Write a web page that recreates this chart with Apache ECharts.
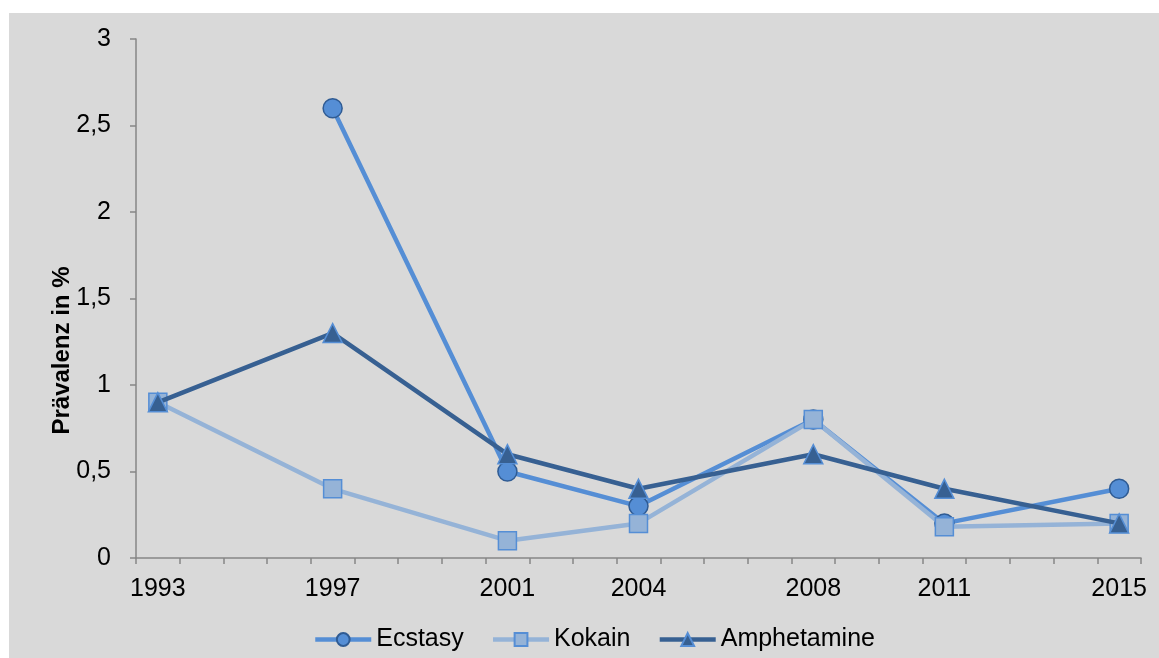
<!DOCTYPE html>
<html>
<head>
<meta charset="utf-8">
<script src="https://cdn.jsdelivr.net/npm/echarts@6/dist/echarts.min.js"></script>
<style>
  html, body { margin: 0; padding: 0; background: #ffffff; width: 1159px; height: 658px; overflow: hidden; }
  #chart { position: absolute; left: 9px; top: 13px; width: 1150px; height: 645px; }
</style>
</head>
<body>
<div id="chart"></div>
<script>
// Survey years and prevalence values (%)
const surveyYears = [1993, 1997, 2001, 2004, 2008, 2011, 2015];
const ecstasy     = [null, 2.6, 0.5, 0.3, 0.8, 0.2, 0.4];
const kokain      = [0.9, 0.4, 0.1, 0.2, 0.8, 0.18, 0.2];
const amphetamine = [0.9, 1.3, 0.6, 0.4, 0.6, 0.4, 0.2];
const yTicks      = ['0', '0,5', '1', '1,5', '2', '2,5', '3'];

// Yearly category axis covering the whole period
const allYears = [];
for (let y = surveyYears[0]; y <= surveyYears[surveyYears.length - 1]; y++) allYears.push(String(y));

function toSeriesData(values) {
  const data = allYears.map(() => null);
  surveyYears.forEach((yr, i) => { data[allYears.indexOf(String(yr))] = values[i]; });
  return data;
}

const FONT = '"Liberation Sans", Arial, sans-serif';

const chart = echarts.init(document.getElementById('chart'), null, { renderer: 'canvas' });
chart.setOption({
  backgroundColor: '#D9D9D9',
  animation: false,
  textStyle: { fontFamily: FONT, color: '#000' },
  grid: { left: 127, right: 18, top: 26, bottom: 100, containLabel: false },
  legend: {
    top: 614,
    left: 304,
    padding: 0,
    itemWidth: 56,
    itemHeight: 16,
    itemGap: 27,
    textStyle: { fontFamily: FONT, fontSize: 25, color: '#000' },
    lineStyle: { width: 4.5 },
    data: ['Ecstasy', 'Kokain', 'Amphetamine']
  },
  xAxis: {
    type: 'category',
    data: allYears,
    boundaryGap: true,
    axisLine: { lineStyle: { color: '#868686', width: 1.5 } },
    axisTick: { show: true, interval: 0, alignWithLabel: false, length: 6, lineStyle: { color: '#868686', width: 1.5 } },
    axisLabel: {
      interval: (idx, val) => surveyYears.includes(Number(val)),
      fontSize: 25, color: '#000', fontFamily: FONT, margin: 19
    },
    splitLine: { show: false }
  },
  yAxis: {
    type: 'value',
    min: 0, max: 3, interval: 0.5,
    name: 'Prävalenz in %',
    nameLocation: 'middle',
    nameGap: 62,
    nameMoveOverlap: false,
    nameRotate: 90,
    nameTextStyle: { fontFamily: FONT, fontSize: 24, fontWeight: 'bold', color: '#000', padding: [0, 104, 0, 0] },
    axisLine: { show: true, lineStyle: { color: '#868686', width: 1.5 } },
    axisTick: { show: true, length: 6, lineStyle: { color: '#868686', width: 1.5 } },
    axisLabel: {
      fontSize: 25, color: '#000', fontFamily: FONT, margin: 25,
      formatter: (v) => yTicks[Math.round(v * 2)]
    },
    splitLine: { show: false }
  },
  series: [
    {
      name: 'Ecstasy', type: 'line', z: 2,
      data: toSeriesData(ecstasy), connectNulls: true,
      symbol: 'circle', symbolSize: 19,
      lineStyle: { color: '#558ED5', width: 4.5 },
      itemStyle: { color: '#558ED5', borderColor: '#2F5B93', borderWidth: 1.5 }
    },
    {
      name: 'Kokain', type: 'line', z: 3,
      data: toSeriesData(kokain), connectNulls: true,
      symbol: 'rect', symbolSize: 18,
      lineStyle: { color: '#95B3D7', width: 4.5 },
      itemStyle: { color: '#95B3D7', borderColor: '#558ED5', borderWidth: 1.5 }
    },
    {
      name: 'Amphetamine', type: 'line', z: 4,
      data: toSeriesData(amphetamine), connectNulls: true,
      symbol: 'triangle', symbolSize: 19,
      lineStyle: { color: '#376092', width: 4.5 },
      itemStyle: { color: '#376092', borderColor: '#558ED5', borderWidth: 1.5 }
    }
  ]
});
</script>
</body>
</html>
